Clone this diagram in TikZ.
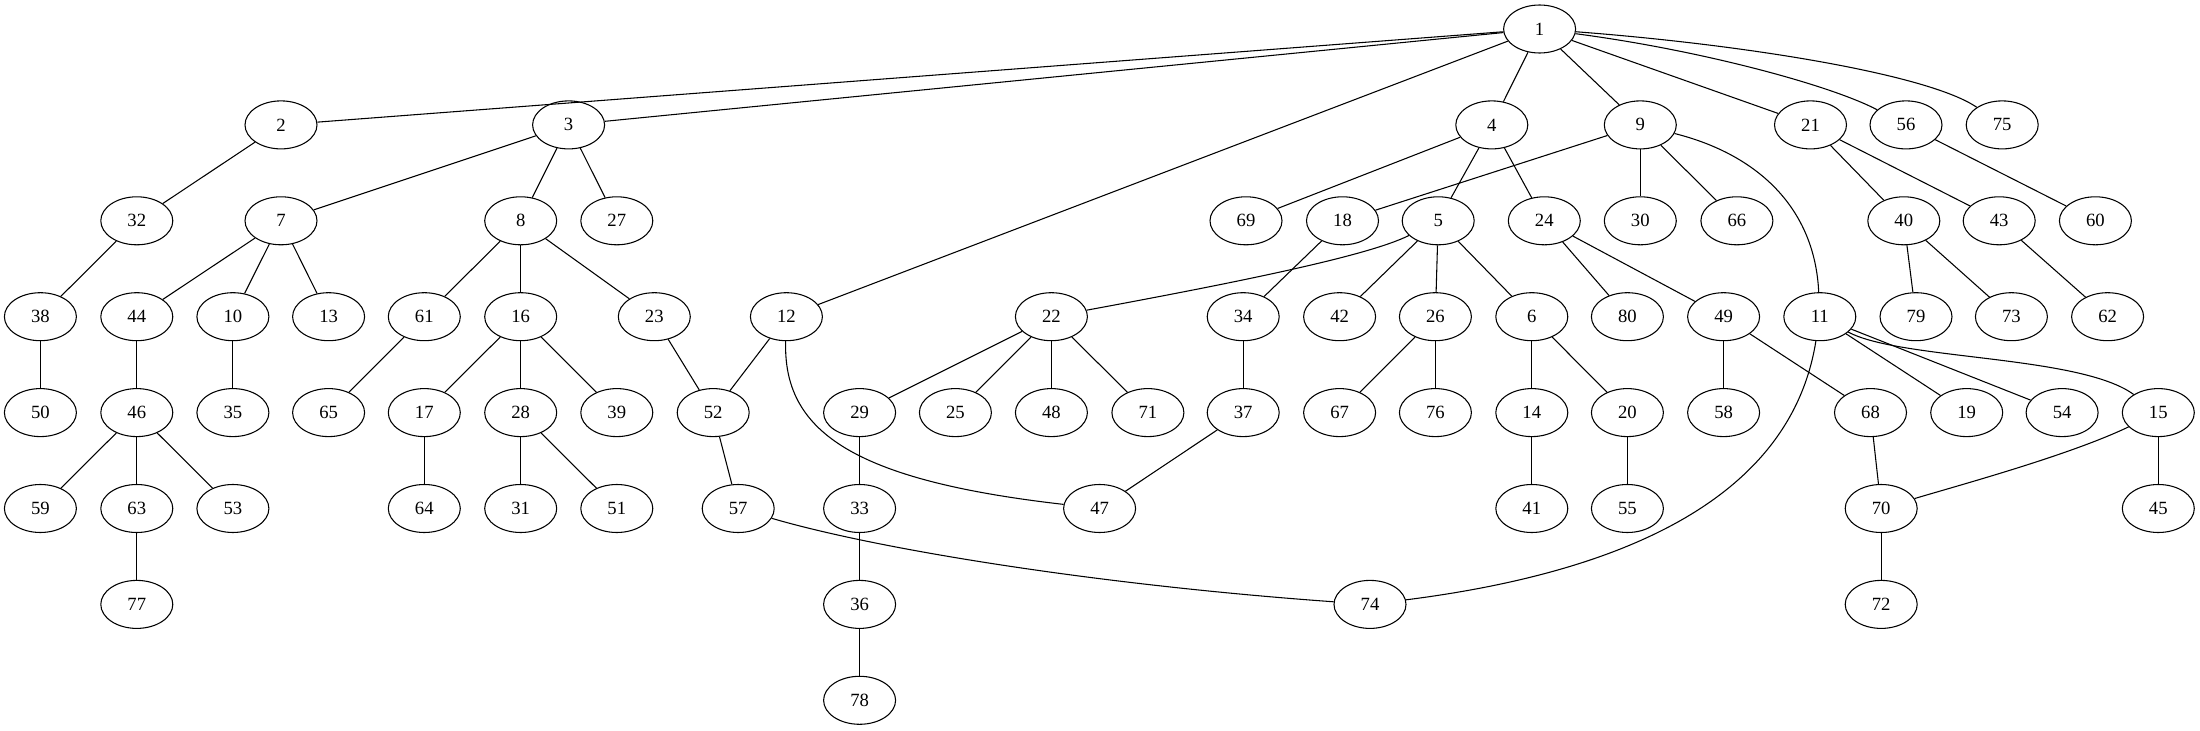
\documentclass[tikz,border=0pt]{standalone}
\usepackage{fontspec}
\setmainfont{Liberation Serif}
\usetikzlibrary{shapes.geometric}
\begin{document}
\begin{tikzpicture}[x=0.75pt,y=-0.75pt,
  gnode/.style={draw,ellipse,line width=0.8pt,inner sep=0pt,minimum width=54pt,minimum height=36pt,font=\fontsize{14}{16}\selectfont},
  every path/.style={line width=0.8pt}]
\useasboundingbox (0,0) rectangle (2200,731);
% row 0
\node[gnode] (n1) at (1539.6,29) {1};
% row 1
\node[gnode] (n2) at (281,124.9) {2};
\node[gnode] (n3) at (568.6,124.9) {3};
\node[gnode] (n4) at (1491.8,124.9) {4};
\node[gnode] (n9) at (1640.3,124.9) {9};
\node[gnode] (n21) at (1810.5,124.9) {21};
\node[gnode] (n56) at (1906,124.9) {56};
\node[gnode] (n75) at (2002.2,124.9) {75};
% row 2
\node[gnode] (n32) at (136.8,220.8) {32};
\node[gnode] (n7) at (281,220.8) {7};
\node[gnode] (n8) at (520.7,220.8) {8};
\node[gnode] (n27) at (616.8,220.8) {27};
\node[gnode] (n69) at (1246,220.8) {69};
\node[gnode] (n18) at (1342.5,220.8) {18};
\node[gnode] (n5) at (1438.2,220.8) {5};
\node[gnode] (n24) at (1544.3,220.8) {24};
\node[gnode] (n30) at (1640.3,220.8) {30};
\node[gnode] (n66) at (1736.9,220.8) {66};
\node[gnode] (n40) at (1903.8,220.8) {40};
\node[gnode] (n43) at (1999.2,220.8) {43};
\node[gnode] (n60) at (2095.4,220.8) {60};
% row 3
\node[gnode] (n38) at (40.4,316.7) {38};
\node[gnode] (n44) at (136.8,316.7) {44};
\node[gnode] (n10) at (232.9,316.7) {10};
\node[gnode] (n13) at (328.6,316.7) {13};
\node[gnode] (n61) at (424.3,316.7) {61};
\node[gnode] (n16) at (520.7,316.7) {16};
\node[gnode] (n23) at (654.3,316.7) {23};
\node[gnode] (n12) at (786.4,316.7) {12};
\node[gnode] (n22) at (1051.4,316.7) {22};
\node[gnode] (n34) at (1243.2,316.7) {34};
\node[gnode] (n42) at (1339.6,316.7) {42};
\node[gnode] (n26) at (1435.4,316.7) {26};
\node[gnode] (n6) at (1531.8,316.7) {6};
\node[gnode] (n80) at (1627.4,316.7) {80};
\node[gnode] (n49) at (1723.6,316.7) {49};
\node[gnode] (n11) at (1819.8,316.7) {11};
\node[gnode] (n79) at (1916,316.7) {79};
\node[gnode] (n73) at (2011.4,316.7) {73};
\node[gnode] (n62) at (2107.6,316.7) {62};
% row 4
\node[gnode] (n50) at (40.4,412.6) {50};
\node[gnode] (n46) at (136.8,412.6) {46};
\node[gnode] (n35) at (232.9,412.6) {35};
\node[gnode] (n65) at (328.6,412.6) {65};
\node[gnode] (n17) at (424.3,412.6) {17};
\node[gnode] (n28) at (520.7,412.6) {28};
\node[gnode] (n39) at (616.8,412.6) {39};
\node[gnode] (n52) at (713.2,412.6) {52};
\node[gnode] (n29) at (859.6,412.6) {29};
\node[gnode] (n25) at (955.4,412.6) {25};
\node[gnode] (n48) at (1051.4,412.6) {48};
\node[gnode] (n71) at (1147.9,412.6) {71};
\node[gnode] (n37) at (1243.2,412.6) {37};
\node[gnode] (n67) at (1339.6,412.6) {67};
\node[gnode] (n76) at (1435.4,412.6) {76};
\node[gnode] (n14) at (1531.8,412.6) {14};
\node[gnode] (n20) at (1627.4,412.6) {20};
\node[gnode] (n58) at (1723.6,412.6) {58};
\node[gnode] (n68) at (1870.5,412.6) {68};
\node[gnode] (n19) at (1966.7,412.6) {19};
\node[gnode] (n54) at (2062.1,412.6) {54};
\node[gnode] (n15) at (2158.3,412.6) {15};
% row 5
\node[gnode] (n59) at (40.4,508.5) {59};
\node[gnode] (n63) at (136.8,508.5) {63};
\node[gnode] (n53) at (232.9,508.5) {53};
\node[gnode] (n64) at (424.3,508.5) {64};
\node[gnode] (n31) at (520.7,508.5) {31};
\node[gnode] (n51) at (616.8,508.5) {51};
\node[gnode] (n57) at (738.2,508.5) {57};
\node[gnode] (n33) at (859.6,508.5) {33};
\node[gnode] (n47) at (1099.6,508.5) {47};
\node[gnode] (n41) at (1531.8,508.5) {41};
\node[gnode] (n55) at (1627.4,508.5) {55};
\node[gnode] (n70) at (1881.2,508.5) {70};
\node[gnode] (n45) at (2158.3,508.5) {45};
% row 6
\node[gnode] (n77) at (136.8,604.4) {77};
\node[gnode] (n36) at (859.6,604.4) {36};
\node[gnode] (n74) at (1370,604.4) {74};
\node[gnode] (n72) at (1881.2,604.4) {72};
% row 7
\node[gnode] (n78) at (859.6,700.3) {78};
% edges
\draw (n1) -- (n2);
\draw (n1) -- (n3);
\draw (n1) -- (n12);
\draw (n1) -- (n4);
\draw (n1) -- (n9);
\draw (n1) -- (n21);
\draw (n1) .. controls (1700,50) and (1830,85) .. (n56);
\draw (n1) .. controls (1750,45) and (1930,75) .. (n75);
\draw (n2) -- (n32);
\draw (n32) -- (n38);
\draw (n38) -- (n50);
\draw (n3) -- (n7);
\draw (n3) -- (n8);
\draw (n3) -- (n27);
\draw (n7) -- (n44);
\draw (n7) -- (n10);
\draw (n7) -- (n13);
\draw (n44) -- (n46);
\draw (n46) -- (n59);
\draw (n46) -- (n63);
\draw (n46) -- (n53);
\draw (n63) -- (n77);
\draw (n10) -- (n35);
\draw (n8) -- (n61);
\draw (n8) -- (n16);
\draw (n8) -- (n23);
\draw (n61) -- (n65);
\draw (n16) -- (n17);
\draw (n16) -- (n28);
\draw (n16) -- (n39);
\draw (n17) -- (n64);
\draw (n28) -- (n31);
\draw (n28) -- (n51);
\draw (n23) -- (n52);
\draw (n12) -- (n52);
\draw (n12) .. controls (783,430) and (850,480) .. (n47);
\draw (n52) -- (n57);
\draw (n57) .. controls (880,550) and (1100,585) .. (n74);
\draw (n4) -- (n69);
\draw (n4) -- (n5);
\draw (n4) -- (n24);
\draw (n9) -- (n18);
\draw (n9) -- (n30);
\draw (n9) -- (n66);
\draw (n9) .. controls (1760,155) and (1815,210) .. (n11);
\draw (n18) -- (n34);
\draw (n34) -- (n37);
\draw (n37) -- (n47);
\draw (n5) .. controls (1370,255) and (1250,280) .. (n22);
\draw (n5) -- (n42);
\draw (n5) -- (n26);
\draw (n5) -- (n6);
\draw (n22) -- (n29);
\draw (n22) -- (n25);
\draw (n22) -- (n48);
\draw (n22) -- (n71);
\draw (n29) -- (n33);
\draw (n33) -- (n36);
\draw (n36) -- (n78);
\draw (n26) -- (n67);
\draw (n26) -- (n76);
\draw (n6) -- (n14);
\draw (n6) -- (n20);
\draw (n14) -- (n41);
\draw (n20) -- (n55);
\draw (n24) -- (n80);
\draw (n24) -- (n49);
\draw (n49) -- (n58);
\draw (n49) -- (n68);
\draw (n68) -- (n70);
\draw (n70) -- (n72);
\draw (n11) .. controls (1800,440) and (1720,560) .. (n74);
\draw (n11) -- (n19);
\draw (n11) -- (n54);
\draw (n11) .. controls (1900,360) and (2080,355) .. (n15);
\draw (n15) .. controls (2070,455) and (1960,485) .. (n70);
\draw (n15) -- (n45);
\draw (n21) -- (n40);
\draw (n21) -- (n43);
\draw (n40) -- (n79);
\draw (n40) -- (n73);
\draw (n43) -- (n62);
\draw (n56) -- (n60);
\end{tikzpicture}
\end{document}
